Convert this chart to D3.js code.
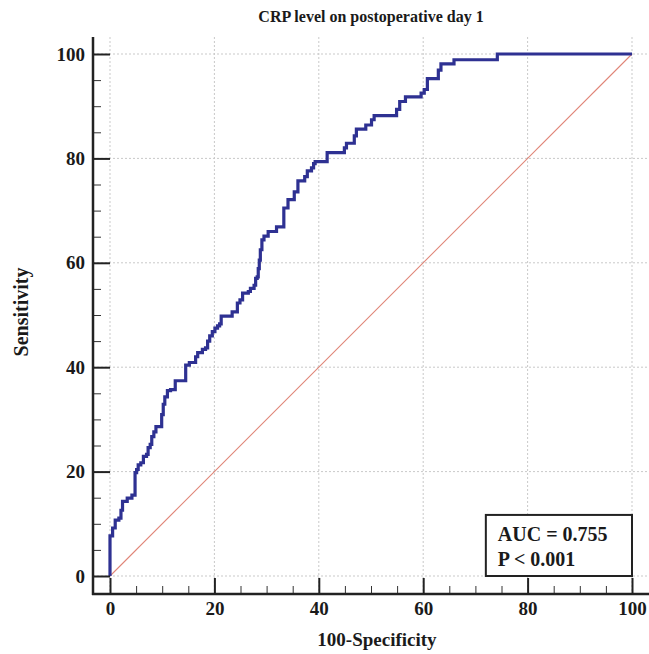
<!DOCTYPE html>
<html>
<head>
<meta charset="utf-8">
<script src="https://cdn.jsdelivr.net/npm/d3@7"></script>
<style>
  body { margin: 0; background: #fff; }
  svg { display: block; }
  .lbl { font-family: "Liberation Serif", "Times New Roman", serif; font-weight: bold; fill: #1a1a1a; }
  .grid line { stroke: #c9c9c9; stroke-width: 1; stroke-dasharray: 2,2; }
</style>
</head>
<body>
<div id="chart"></div>
<script>
// ROC curve corner points (100-Specificity, Sensitivity)
var fpr = [0, 0, 0.5, 1.0, 1.7, 2.1, 2.4, 3.3, 4.2, 4.8, 5.1, 5.4, 5.9, 6.4, 7.0, 7.3, 7.7, 8.0, 8.4,
  8.8, 9.9, 10.2, 10.5, 11.0, 11.6, 12.5, 14.5, 15.2, 16.4, 16.8, 17.7, 18.3, 18.7, 19.1, 19.6, 20.1,
  20.6, 21.0, 21.3, 23.4, 24.4, 24.9, 25.4, 26.5, 26.9, 27.6, 27.9, 28.2, 28.4, 28.6, 28.8, 29.1, 29.5,
  30.3, 31.9, 33.3, 34.1, 35.3, 36.0, 37.3, 37.8, 38.6, 39.0, 39.3, 41.6, 44.9, 45.3, 46.8, 47.2, 49.0,
  50.1, 50.6, 54.9, 55.5, 56.6, 59.6, 60.2, 60.8, 62.9, 63.4, 65.9, 74.2, 100];
var tpr = [0, 7.7, 9.2, 10.7, 11.1, 12.6, 14.3, 14.9, 15.5, 19.8, 20.4, 21.3, 21.7, 22.9, 23.3, 24.6, 25.2, 26.7, 27.6,
  28.6, 30.9, 32.9, 34.3, 35.5, 35.7, 37.4, 40.4, 40.9, 42.0, 42.8, 43.4, 43.7, 45.0, 46.0, 46.8, 47.5,
  47.9, 48.3, 49.8, 50.6, 52.3, 52.9, 54.2, 54.5, 55.1, 55.7, 57.0, 57.3, 58.9, 60.5, 62.5, 64.4, 65.1,
  66.0, 66.9, 70.5, 72.1, 73.6, 75.7, 76.5, 77.6, 78.2, 79.0, 79.4, 81.1, 82.0, 82.9, 84.3, 85.6, 86.4,
  87.4, 88.2, 89.4, 90.9, 91.8, 92.5, 93.2, 95.3, 96.9, 98.1, 98.9, 100, 100];

var majorTicks = [0, 20, 40, 60, 80, 100];
var minorTicks = [5, 10, 15, 25, 30, 35, 45, 50, 55, 65, 70, 75, 85, 90, 95];
var legendLines = ['AUC = 0.755', 'P < 0.001'];
var title = 'CRP level on postoperative day 1';
var xTitle = '100-Specificity';
var yTitle = 'Sensitivity';

var W = 649, H = 654;
var pLeft = 93, pRight = 649, pTop = 37, pBottom = 594;

var x = d3.scaleLinear().domain([0, 100]).range([110, 632]);
var y = d3.scaleLinear().domain([0, 100]).range([576, 54]);

var svg = d3.select('#chart').append('svg')
  .attr('width', W)
  .attr('height', H);

// grid
var grid = svg.append('g').attr('class', 'grid');
grid.selectAll('.gx').data(majorTicks).enter().append('line')
  .attr('x1', d => x(d)).attr('x2', d => x(d))
  .attr('y1', pTop).attr('y2', pBottom);
grid.selectAll('.gy').data(majorTicks).enter().append('line')
  .attr('x1', pLeft).attr('x2', pRight)
  .attr('y1', d => y(d)).attr('y2', d => y(d));

// reference diagonal
svg.append('line')
  .attr('x1', x(0)).attr('y1', y(0))
  .attr('x2', x(100)).attr('y2', y(100))
  .attr('stroke', '#e08578')
  .attr('stroke-width', 1.1);

// roc curve
var pts = fpr.map((d, i) => [d, tpr[i]]);
var line = d3.line()
  .x(d => x(d[0]))
  .y(d => y(d[1]))
  .curve(d3.curveStepAfter);
svg.append('path')
  .datum(pts)
  .attr('d', line)
  .attr('fill', 'none')
  .attr('stroke', '#2e3192')
  .attr('stroke-width', 3.2)
  .attr('stroke-linejoin', 'miter');

// axes, ticks point inwards
var xAxis = svg.append('g')
  .attr('transform', 'translate(0,' + pBottom + ')')
  .call(d3.axisBottom(x).tickValues(majorTicks).tickSizeInner(-16).tickSizeOuter(0).tickPadding(0));
xAxis.select('.domain').remove();
xAxis.selectAll('line').attr('stroke', '#222').attr('stroke-width', 2);
xAxis.selectAll('text').attr('class', 'lbl').attr('font-size', 19).attr('y', 21).attr('dy', 0);

var xMinor = svg.append('g')
  .attr('transform', 'translate(0,' + pBottom + ')')
  .call(d3.axisBottom(x).tickValues(minorTicks).tickSizeInner(-8).tickSizeOuter(0).tickFormat(''));
xMinor.select('.domain').remove();
xMinor.selectAll('line').attr('stroke', '#333').attr('stroke-width', 1);

var yAxis = svg.append('g')
  .attr('transform', 'translate(' + pLeft + ',0)')
  .call(d3.axisLeft(y).tickValues(majorTicks).tickSizeInner(-17).tickSizeOuter(0).tickPadding(8));
yAxis.select('.domain').remove();
yAxis.selectAll('line').attr('stroke', '#222').attr('stroke-width', 2);
yAxis.selectAll('text').attr('class', 'lbl').attr('font-size', 19);

var yMinor = svg.append('g')
  .attr('transform', 'translate(' + pLeft + ',0)')
  .call(d3.axisLeft(y).tickValues(minorTicks).tickSizeInner(-8).tickSizeOuter(0).tickFormat(''));
yMinor.select('.domain').remove();
yMinor.selectAll('line').attr('stroke', '#333').attr('stroke-width', 1);

// axis lines
svg.append('line')
  .attr('x1', pLeft).attr('x2', pLeft).attr('y1', pTop).attr('y2', pBottom + 1)
  .attr('stroke', '#222').attr('stroke-width', 2.5);
svg.append('line')
  .attr('x1', pLeft - 1).attr('x2', pRight).attr('y1', pBottom).attr('y2', pBottom)
  .attr('stroke', '#222').attr('stroke-width', 2.5);

// legend box
var box = svg.append('g');
box.append('rect')
  .attr('x', x(72)).attr('y', y(11.7))
  .attr('width', x(100) - x(72)).attr('height', y(0) - y(11.7))
  .attr('fill', '#fff')
  .attr('stroke', '#222')
  .attr('stroke-width', 2);
box.selectAll('text').data(legendLines).enter().append('text')
  .attr('class', 'lbl')
  .attr('font-size', 20)
  .attr('x', x(72) + 12)
  .attr('y', (d, i) => y(11.7) + 26 + i * 25)
  .text(d => d);

// titles
svg.append('text')
  .attr('class', 'lbl')
  .attr('font-size', 16)
  .attr('text-anchor', 'middle')
  .attr('x', 371).attr('y', 22)
  .text(title);
svg.append('text')
  .attr('class', 'lbl')
  .attr('font-size', 19)
  .attr('text-anchor', 'middle')
  .attr('x', 377).attr('y', 646)
  .text(xTitle);
svg.append('text')
  .attr('class', 'lbl')
  .attr('font-size', 20)
  .attr('text-anchor', 'middle')
  .attr('transform', 'translate(28,312) rotate(-90)')
  .text(yTitle);
</script>
</body>
</html>
